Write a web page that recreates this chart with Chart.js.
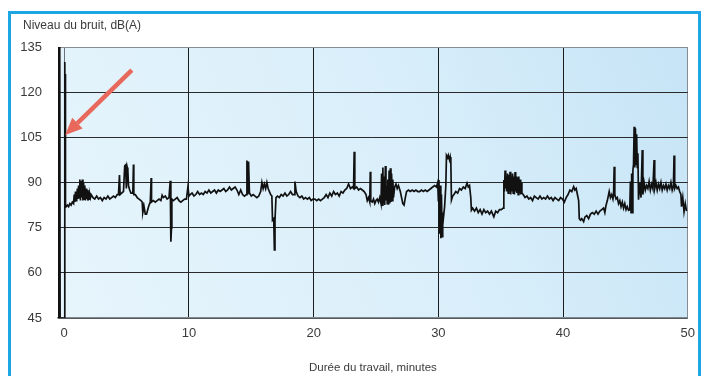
<!DOCTYPE html>
<html>
<head>
<meta charset="utf-8">
<script src="https://cdn.jsdelivr.net/npm/chart.js@4.4.1/dist/chart.umd.min.js"></script>
<style>
html,body{margin:0;padding:0;overflow:hidden;background:#fff;}
#frame{position:absolute;left:8px;top:11px;width:693px;height:365px;border:3px solid #1ea5e3;border-bottom:none;box-sizing:border-box;}
#wrap{position:absolute;left:0;top:0;width:703px;height:376px;}
</style>
</head>
<body>
<div id="frame"></div>
<div id="wrap"><canvas id="noise" width="703" height="376"></canvas></div>
<script>
const minutes = [
 -0.50,-0.48,-0.45,-0.42,-0.39,-0.36,-0.33,0.00,0.03,0.06,0.08,0.09,0.11,
 0.15,0.25,0.35,0.45,0.55,0.65,0.75,0.80,0.85,0.90,0.95,1.00,1.05,1.10,
 1.15,1.20,1.25,1.30,1.35,1.40,1.45,1.50,1.55,1.60,1.65,1.70,1.75,1.80,1.85,1.90,1.95,2.00,2.05,2.10,2.15,
 2.30,2.45,2.60,2.75,2.90,3.05,3.20,3.35,3.50,3.65,3.80,3.95,4.10,4.25,4.35,4.43,4.48,4.60,4.75,
 4.85,4.92,4.98,5.05,5.10,5.15,5.25,5.35,5.50,5.55,5.58,5.70,5.85,6.00,6.15,6.25,
 6.30,6.40,6.50,6.60,6.70,6.80,6.90,6.97,7.00,7.15,7.30,7.45,7.60,7.75,7.85,7.95,8.10,8.25,8.40,
 8.50,8.55,8.60,8.63,8.75,8.90,9.05,9.20,9.35,9.50,9.65,9.80,9.92,10.00,
 10.10,10.25,10.40,10.55,10.70,10.85,11.00,11.15,11.30,11.45,11.60,11.75,11.90,12.05,12.20,12.35,12.50,12.65,12.80,12.95,
 13.10,13.25,13.40,13.55,13.70,13.85,14.00,14.15,14.30,14.45,14.60,14.65,14.72,14.78,14.85,
 15.00,15.15,15.30,15.45,15.60,15.75,15.85,15.95,16.05,16.15,16.25,16.35,16.45,16.55,16.65,
 16.70,16.80,16.85,16.90,16.98,17.10,17.25,17.40,17.55,17.70,17.85,18.00,18.15,18.30,18.45,18.50,18.60,
 18.75,18.90,19.05,19.20,19.35,19.50,19.65,19.80,19.95,20.10,20.25,20.40,20.55,20.70,20.85,
 21.00,21.15,21.30,21.45,21.60,21.75,21.90,22.05,22.20,22.35,22.50,22.65,22.80,22.95,23.10,23.20,23.25,23.30,
 23.45,23.60,23.75,23.90,24.05,24.20,24.30,24.40,24.50,24.54,24.58,24.70,24.80,24.90,
 25.00,25.10,25.20,25.30,25.40,25.45,25.50,25.55,25.60,25.65,25.70,25.75,25.80,25.85,25.90,25.95,26.00,26.05,26.10,26.15,26.20,26.25,26.30,26.35,26.40,
 26.50,26.60,26.70,26.80,26.95,27.05,27.15,27.25,27.35,27.45,27.60,27.75,27.90,28.05,28.20,28.35,28.50,28.65,28.80,28.95,29.10,29.25,29.40,29.55,29.70,29.85,29.95,
 30.00,30.05,30.10,30.15,30.20,30.25,30.30,30.35,30.40,30.50,30.60,30.65,30.75,30.80,30.90,30.95,31.00,31.05,
 31.15,31.25,31.40,31.55,31.70,31.85,32.00,32.15,32.30,32.40,32.50,32.60,32.65,
 32.75,32.90,33.05,33.20,33.35,33.50,33.65,33.80,33.95,34.10,34.25,34.45,34.60,34.75,34.90,35.05,35.20,35.25,
 35.30,35.35,35.40,35.45,35.50,35.55,35.60,35.65,35.70,35.75,35.80,35.85,35.90,35.95,36.00,36.05,36.10,36.15,36.20,36.25,36.30,36.35,36.40,36.45,36.50,36.55,36.60,36.65,36.70,36.80,
 36.95,37.10,37.25,37.40,37.55,37.70,37.85,38.00,38.15,38.30,38.45,38.60,38.75,38.90,39.05,39.20,39.35,39.50,39.65,39.80,39.95,
 40.10,40.25,40.40,40.55,40.70,40.85,40.95,41.05,41.15,41.25,41.30,41.40,41.50,
 41.65,41.75,41.90,42.05,42.20,42.35,42.50,42.65,42.80,42.95,43.10,43.25,43.35,43.45,43.55,43.70,43.80,43.90,44.00,44.05,44.10,44.15,
 44.25,44.35,44.45,44.55,44.65,44.75,44.85,44.95,45.05,45.15,45.25,45.35,45.40,45.45,45.50,45.55,45.60,
 45.65,45.70,45.75,45.80,45.85,45.90,45.95,46.00,46.05,46.15,46.25,46.35,46.40,46.50,
 46.60,46.70,46.80,46.90,47.00,47.10,47.20,47.30,47.35,47.45,47.55,47.65,47.75,47.85,47.95,
 48.05,48.15,48.25,48.35,48.45,48.55,48.65,48.75,48.85,48.90,48.95,49.05,49.15,49.25,49.35,49.45,49.50,49.60,49.70,49.80,49.90
];
const levels = [
 45,135,45,135,45,135,45,45,45,130,84,126,82.5,
 82,82.5,82,83,82.5,83.5,83,86,83.5,87,84,85,88,84.5,
 89,85,91,84,90.5,85,91,84,90,84.5,89,84,88,84.5,87.5,84,87,84.5,86,85,86,
 85,84.5,85.5,84.5,85,84,85,84.5,85.5,84.5,85,85.5,85,86,86,92.5,86,86.5,87,
 95.5,95.8,88,95,94,89,87.5,86.5,86.5,96,86,86,85,84.5,84,83.5,
 80,82,79.5,79.5,81,82.5,83.5,91.5,83.5,84,83.5,84,84.5,84,85.8,85,85.5,84.5,85,
 90.6,70.3,75,84.5,84,84.5,85,84,83.5,84,84.5,84.5,88.6,85.5,
 86,86.5,85.5,86,87,86,86.5,86,87,86.5,87.5,86.5,87,87.5,86.5,87.5,87,87.5,88,87,
 87.5,88.5,87.5,88,88.5,87.5,86,87.5,86,85.5,86,97.3,86,97,86.5,
 85.5,86,85.5,85,85.5,87,90,88,89.5,88,90,88,87,86,85.5,
 77.5,78,67.6,77.5,85,85.5,85,86,85.5,86.5,85.5,86,87,86,86,90.3,87,
 85.5,85,85.5,84.5,85,84.5,85,84,84.5,84.5,84,84.5,84,84.5,85,
 86,85,86.5,85.5,87,86,86.5,85.5,87,86.5,87.5,88,89.5,88,88.5,88,100.2,88,
 88.5,87.5,88,87.5,87,86,84,85,83.5,93.6,84,83.5,84.5,83,
 84,84.5,83.5,85,83,93,82.5,95,83,92,82.5,95.5,84,89,83,91,82.6,94,83,94.7,83.5,93,84,91,85,
 88.5,89.5,88,89,87,85,83,82.5,85,87,87.5,87,87.5,87,87.5,87,87,87.5,87,87.5,87,87.5,88,88.5,89,88.5,90,
 84,90.8,73,89,71.5,86,72,80,78,82,89,99,98.2,99,97.5,98.5,97,84.2,
 85.5,86,87,86.5,88,87.5,88.5,88,89.8,88.5,89,85,80.8,
 81.5,80.5,81.5,80,81,79.5,81,80,80.5,79.5,80.5,78.6,80.5,80,81,81,81.5,90.8,
 87,94,88,92,87,93,86.5,92.5,87,93.6,86,92,87,93,86.5,92,86,93.5,87,92,86.5,91.5,86,92,86.5,91,86,90,86.5,86,
 85,85.5,84.5,85,84,85.5,85,84.5,85.5,84.5,85,84.5,85.5,84.5,85,84,85,84.5,84,85,84.5,
 83.5,85,86,87.5,87,88.6,87.5,88,86,84,78,77.5,78,
 77,78.5,79,78,79.5,80,79.5,80.5,79.5,80.5,81,81.5,80,82.5,84,87,85,86,84.5,86,95.2,86,
 84.5,85,83,84,82,83.5,81.5,83,81,82,80.8,81,90.3,80,93,80,94,
 96,108.5,95,108,96,106,95,99.7,84.3,90,85,100.8,86,90,
 87.5,89,88,90.3,87.5,89.5,88,97.5,88,90,87.5,89.5,88,90,87.5,
 89,88,89.5,87.5,89,88,90,87.5,89,99,88,89,88,88.5,87,86,82,85,80.3,83,80.5
];
const xTicks = [0, 10, 20, 30, 40, 50];
const yTicks = [45, 60, 75, 90, 105, 120, 135];

// flèche rouge (coordonnées en unités du graphique)
const arrowFrom = [5.42, 127.3];
const arrowTo = [0.08, 105.8];

const font = "'Liberation Sans',Arial,sans-serif";
const textColor = '#3a3a3a';

const plotBg = {
  id: 'plotBg',
  beforeDraw(chart) {
    const {ctx, chartArea: a} = chart;
    const g = ctx.createLinearGradient(a.left, a.bottom, a.right, a.top);
    g.addColorStop(0, '#e7f5fc');
    g.addColorStop(0.6, '#d8eefa');
    g.addColorStop(1, '#c6e4f6');
    ctx.save();
    ctx.fillStyle = g;
    ctx.fillRect(a.left, a.top, a.width, a.height);
    ctx.restore();
  }
};

// titre de l'axe vertical, horizontal au-dessus des graduations
const yLabel = {
  id: 'yLabel',
  afterDraw(chart) {
    const {ctx, chartArea: a} = chart;
    ctx.save();
    ctx.font = '12px ' + font;
    ctx.fillStyle = textColor;
    ctx.textBaseline = 'middle';
    ctx.fillText('Niveau du bruit, dB(A)', a.left - 35, a.top - 21);
    ctx.restore();
  }
};

const arrow = {
  id: 'arrow',
  afterDatasetsDraw(chart) {
    const {ctx, scales: {x, y}} = chart;
    const x0 = x.getPixelForValue(arrowFrom[0]), y0 = y.getPixelForValue(arrowFrom[1]);
    const x1 = x.getPixelForValue(arrowTo[0]), y1 = y.getPixelForValue(arrowTo[1]);
    const ang = Math.atan2(y1 - y0, x1 - x0), head = 17, half = 7.5;
    const bx = x1 - head * Math.cos(ang), by = y1 - head * Math.sin(ang);
    ctx.save();
    ctx.strokeStyle = ctx.fillStyle = '#e8695c';
    ctx.lineWidth = 4.5;
    ctx.beginPath();
    ctx.moveTo(x0, y0);
    ctx.lineTo(bx, by);
    ctx.stroke();
    ctx.beginPath();
    ctx.moveTo(x1, y1);
    ctx.lineTo(bx - half * Math.sin(ang), by + half * Math.cos(ang));
    ctx.lineTo(bx + half * Math.sin(ang), by - half * Math.cos(ang));
    ctx.closePath();
    ctx.fill();
    ctx.restore();
  }
};

new Chart(document.getElementById('noise'), {
  type: 'line',
  data: {
    datasets: [{
      data: minutes.map((m, i) => ({x: m, y: levels[i]})),
      borderColor: '#111',
      borderWidth: 1.7,
      pointRadius: 0,
      tension: 0,
      fill: false
    }]
  },
  options: {
    responsive: false,
    animation: false,
    layout: {padding: {left: 0, top: 47, right: 15, bottom: 0}},
    plugins: {
      legend: {display: false},
      tooltip: {enabled: false},
      title: {display: false}
    },
    scales: {
      x: {
        type: 'linear', min: -0.5, max: 50,
        afterBuildTicks: s => { s.ticks = xTicks.map(v => ({value: v})); },
        afterFit: s => { s.height = 58; },
        grid: {
          drawTicks: false,
          color: c => c.tick && c.tick.value === 0 ? '#6a737c' : (c.tick && c.tick.value === 50 ? '#858c94' : '#1c1c1c')
        },
        border: {color: '#7f878f', width: 1.5},
        ticks: {padding: 8, color: textColor, font: {family: font, size: 13}},
        title: {
          display: true, text: 'Durée du travail, minutes', color: textColor,
          font: {family: font, size: 11.5}, padding: {top: 0, bottom: 1}
        }
      },
      y: {
        min: 45, max: 135,
        afterBuildTicks: s => { s.ticks = yTicks.map(v => ({value: v})); },
        afterFit: s => { s.width = 58; },
        grid: {
          drawTicks: false,
          color: c => c.tick && c.tick.value === 135 ? '#858c94' : '#2a2a2a'
        },
        border: {display: false},
        ticks: {padding: 16, color: textColor, font: {family: font, size: 13}}
      }
    }
  },
  plugins: [plotBg, arrow, yLabel]
});
</script>
</body>
</html>
